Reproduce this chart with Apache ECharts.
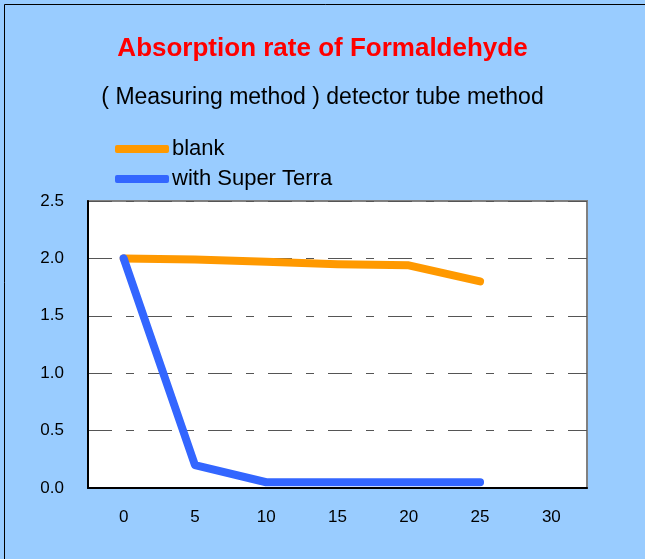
<!DOCTYPE html>
<html><head><meta charset="utf-8">
<script src="https://cdn.jsdelivr.net/npm/echarts@6/dist/echarts.min.js"></script>
<style>html,body{margin:0;padding:0;background:#99ccff}#c{width:645px;height:559px}</style>
</head><body><div id="c"></div>
<script>
const categories = ['0','5','10','15','20','25','30'];
const blank = [2.0, 1.99, 1.97, 1.95, 1.94, 1.80, null];
const superTerra = [2.0, 0.2, 0.05, 0.05, 0.05, 0.05, null];
const yTicks = [0, 0.5, 1.0, 1.5, 2.0, 2.5];
const font = '"Liberation Sans", Arial, sans-serif';
const chart = echarts.init(document.getElementById('c'));
chart.setOption({
  backgroundColor: '#99ccff',
  animation: false,
  graphic: [{type:'rect', shape:{x:4.5,y:4.5,width:700,height:700}, style:{fill:'none', stroke:'#000', lineWidth:1}, silent:true}],
  title: [
    {text:'Absorption rate of Formaldehyde', left:'center', top:31, textStyle:{color:'#ff0000', fontSize:26, fontWeight:'bold', fontFamily:font}},
    {text:'( Measuring method ) detector tube method', left:'center', top:81, textStyle:{color:'#000', fontSize:23, fontWeight:'normal', fontFamily:font}}
  ],
  legend: {
    orient:'vertical', left:110, top:133, itemWidth:54, itemHeight:8, itemGap:8,
    icon:'roundRect',
    textStyle:{fontSize:22, color:'#000', fontFamily:font, padding:[0,0,0,-2]},
    data:['blank','with Super Terra']
  },
  grid: {left:88, top:201, right:58, bottom:71, show:true, backgroundColor:'#fff', borderColor:'#808080', borderWidth:2},
  xAxis: {
    type:'category', data:categories, boundaryGap:true,
    axisLine:{lineStyle:{color:'#000', width:2}},
    axisTick:{show:false},
    axisLabel:{color:'#000', fontSize:17, margin:21, fontFamily:font},
    splitLine:{show:false}
  },
  yAxis: {
    type:'value', min:yTicks[0], max:yTicks[yTicks.length-1], interval:0.5,
    axisLine:{show:true, lineStyle:{color:'#000', width:2}},
    axisTick:{show:false},
    axisLabel:{color:'#000', fontSize:17, margin:24, fontFamily:font, formatter:v=>v.toFixed(1)},
    splitLine:{show:true, lineStyle:{color:'#555', width:1, type:[24,14,8,14]}}
  },
  series: [
    {name:'blank', type:'line', data:blank, color:'#ff9900', showSymbol:false, symbol:'none', lineStyle:{width:8, cap:'round', join:'round', color:'#ff9900'}},
    {name:'with Super Terra', type:'line', data:superTerra, color:'#3366ff', showSymbol:false, symbol:'none', lineStyle:{width:8, cap:'round', join:'round', color:'#3366ff'}}
  ]
});
</script></body></html>
